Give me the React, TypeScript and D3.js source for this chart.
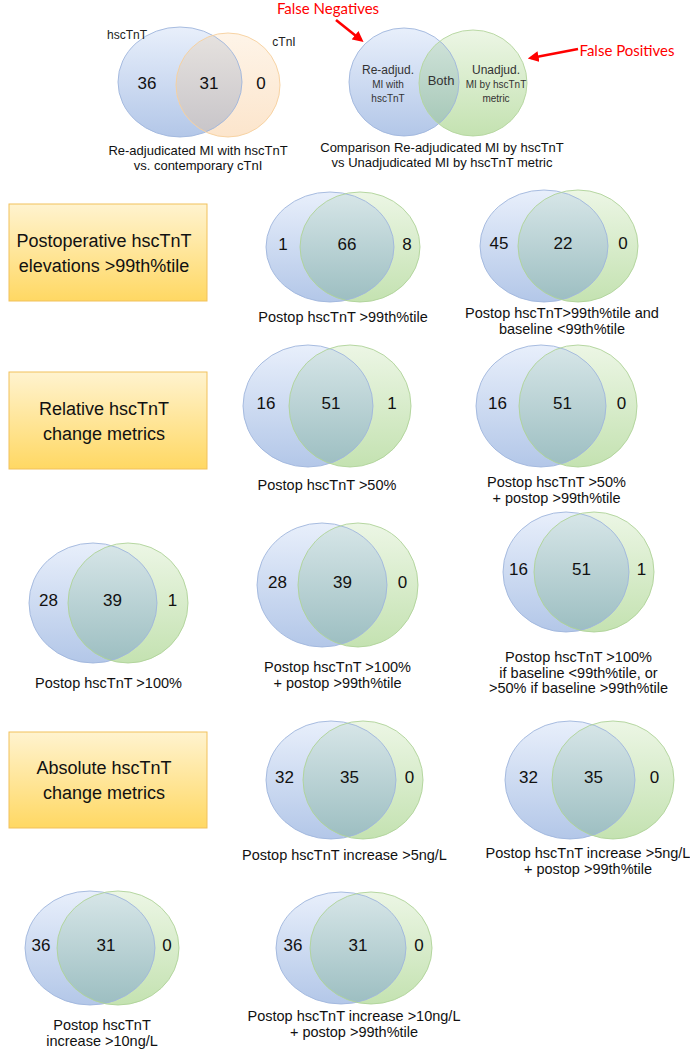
import React from 'react';
import * as d3 from 'd3';

// ---------- DATA ----------
const groupBoxes: string[][] = [
  ['Postoperative hscTnT', 'elevations >99th%tile'],
  ['Relative hscTnT', 'change metrics'],
  ['Absolute hscTnT', 'change metrics'],
];

const metricCaptions: string[][] = [
  ['Postop hscTnT >99th%tile'],
  ['Postop hscTnT>99th%tile and', 'baseline <99th%tile'],
  ['Postop hscTnT >50%'],
  ['Postop hscTnT >50%', '+ postop >99th%tile'],
  ['Postop hscTnT >100%'],
  ['Postop hscTnT >100%', '+ postop >99th%tile'],
  ['Postop hscTnT >100%', 'if baseline <99th%tile, or', '>50% if baseline >99th%tile'],
  ['Postop hscTnT increase >5ng/L'],
  ['Postop hscTnT increase >5ng/L', '+ postop >99th%tile'],
  ['Postop hscTnT', 'increase >10ng/L'],
  ['Postop hscTnT increase >10ng/L', '+ postop >99th%tile'],
];
const readjudicatedOnly = [1, 45, 16, 16, 28, 28, 16, 32, 32, 36, 36];
const bothCount = [66, 22, 51, 51, 39, 39, 51, 35, 35, 31, 31];
const metricOnly = [8, 0, 1, 0, 1, 0, 1, 0, 0, 0, 0];

const troponinSets = ['hscTnT', 'cTnI'];
const troponinCounts = [36, 31, 0];
const troponinCaption = ['Re-adjudicated MI with hscTnT', 'vs. contemporary cTnI'];

const keyRegions: string[][] = [['Re-adjud.', 'MI with', 'hscTnT'], ['Both'], ['Unadjud.', 'MI by hscTnT', 'metric']];
const keyCaption = ['Comparison Re-adjudicated MI by hscTnT', 'vs Unadjudicated MI by hscTnT metric'];
const errorLabels = ['False Negatives', 'False Positives'];

// ---------- LAYOUT ----------
type VL = { bx: number; brx: number; gx: number; grx: number; cy: number; ry: number; capY: number; capX?: number };
const vennLayout: VL[] = [
  { bx: 330, brx: 64, gx: 360, grx: 60, cy: 247, ry: 55, capY: 317 },
  { bx: 544, brx: 64, gx: 578, grx: 60, cy: 246, ry: 56, capY: 313, capX: 562 },
  { bx: 308, brx: 65, gx: 350, grx: 61, cy: 406, ry: 61, capY: 485 },
  { bx: 541, brx: 65, gx: 578, grx: 59, cy: 406, ry: 61, capY: 482 },
  { bx: 93, brx: 64, gx: 128, grx: 60, cy: 603, ry: 60, capY: 683 },
  { bx: 322, brx: 65, gx: 358, grx: 60, cy: 585, ry: 62, capY: 667 },
  { bx: 566, brx: 63, gx: 594, grx: 60, cy: 572, ry: 60, capY: 657 },
  { bx: 331, brx: 65, gx: 363, grx: 60, cy: 780, ry: 59, capY: 855 },
  { bx: 570, brx: 65, gx: 613, grx: 61, cy: 780, ry: 59, capY: 853, capX: 588 },
  { bx: 90, brx: 65, gx: 118, grx: 61, cy: 948, ry: 57, capY: 1025 },
  { bx: 341, brx: 65, gx: 371, grx: 61, cy: 948, ry: 56, capY: 1016 },
];
const boxLayout = [
  { y: 204, h: 97 },
  { y: 372, h: 97 },
  { y: 732, h: 96 },
];

const FONT = "'Liberation Sans', Arial, Helvetica, sans-serif";
const RED_FONT = "Lato, 'Open Sans', sans-serif";

function regionCenters(bx: number, brx: number, gx: number, grx: number) {
  const bl = bx - brx, br = bx + brx, gl = gx - grx, gr = gx + grx;
  return [d3.mean([bl, gl])!, d3.mean([gl, br])!, d3.mean([br, gr])!];
}

function Venn({ id, l, counts, caption, overlapFill, rightFill, rightStroke, capSize = 14.5, capGap = 15.5, by, gy, gry }: any) {
  const cyB = by ?? l.cy;
  const cyG = gy ?? l.cy;
  const ryG = gry ?? l.ry;
  const centers = regionCenters(l.bx, l.brx, l.gx, l.grx);
  const capX = l.capX ?? d3.mean([l.bx - l.brx, l.gx + l.grx])!;
  return (
    <g>
      <defs>
        <clipPath id={`clip-${id}`}>
          <ellipse cx={l.bx} cy={cyB} rx={l.brx} ry={l.ry} />
        </clipPath>
      </defs>
      <ellipse cx={l.bx} cy={cyB} rx={l.brx} ry={l.ry} fill="url(#gBlue)" />
      <ellipse cx={l.gx} cy={cyG} rx={l.grx} ry={ryG} fill={rightFill} />
      <ellipse cx={l.gx} cy={cyG} rx={l.grx} ry={ryG} fill={overlapFill} clipPath={`url(#clip-${id})`} />
      <ellipse cx={l.bx} cy={cyB} rx={l.brx} ry={l.ry} fill="none" stroke="#9fb5dc" strokeWidth={0.9} />
      <ellipse cx={l.gx} cy={cyG} rx={l.grx} ry={ryG} fill="none" stroke={rightStroke} strokeWidth={0.9} />
      {counts.map((c: number, i: number) => (
        <text key={i} x={centers[i]} y={l.ny ?? l.cy - 3} fontSize={17} fontFamily={FONT} fill="#111" textAnchor="middle" dominantBaseline="central">
          {c}
        </text>
      ))}
      {caption.map((s: string, i: number) => (
        <text key={'c' + i} x={capX} y={l.capY + i * capGap} fontSize={capSize} fontFamily={FONT} fill="#111" textAnchor="middle" dominantBaseline="central">
          {s}
        </text>
      ))}
    </g>
  );
}

export default function App() {
  const W = 690, H = 1050;
  const v0: any = { bx: 180, brx: 62, gx: 228, grx: 52, cy: 83, ry: 55, capY: 150, capX: 198, ny: 83 };
  const v1: any = { bx: 404, brx: 55, gx: 473, grx: 54, cy: 82, ry: 54, capY: 147, capX: 442 };
  const keyCenters = regionCenters(v1.bx, v1.brx, v1.gx, v1.grx);
  const keyStyles = [
    [12, 10, 10],
    [13],
    [12, 10, 10],
  ];
  const keyYs = [
    [70, 84, 98],
    [80],
    [70, 84, 98],
  ];
  return (
    <svg width={W} height={H} style={{ position: 'absolute', left: 0, top: 0, background: '#fff' }}>
      <defs>
        <linearGradient id="gBlue" x1="0" y1="0" x2="0" y2="1">
          <stop offset="0" stopColor="#e8effb" />
          <stop offset="1" stopColor="#b3c7e8" />
        </linearGradient>
        <linearGradient id="gGreen" x1="0" y1="0" x2="0" y2="1">
          <stop offset="0" stopColor="#ecf6e5" />
          <stop offset="1" stopColor="#c4e2b1" />
        </linearGradient>
        <linearGradient id="gOver" x1="0" y1="0" x2="0" y2="1">
          <stop offset="0" stopColor="#d7e6e8" />
          <stop offset="1" stopColor="#9cbec1" />
        </linearGradient>
        <linearGradient id="gOverKey" x1="0" y1="0" x2="0" y2="1">
          <stop offset="0" stopColor="#d3e5dc" />
          <stop offset="1" stopColor="#a2c5b4" />
        </linearGradient>
        <linearGradient id="gOrange" x1="0" y1="0" x2="0" y2="1">
          <stop offset="0" stopColor="#fef4e8" />
          <stop offset="1" stopColor="#fce5cc" />
        </linearGradient>
        <linearGradient id="gOverOrange" x1="0" y1="0" x2="0" y2="1">
          <stop offset="0" stopColor="#e6e2df" />
          <stop offset="1" stopColor="#c7c4c8" />
        </linearGradient>
        <linearGradient id="gGold" x1="0" y1="0" x2="0" y2="1">
          <stop offset="0" stopColor="#fff3cf" />
          <stop offset="1" stopColor="#ffd863" />
        </linearGradient>
        <marker id="arrow" viewBox="0 0 10 10" refX="7" refY="5" markerWidth="4.2" markerHeight="4.2" orient="auto">
          <path d="M0,0 L10,5 L0,10 z" fill="#ff0000" />
        </marker>
      </defs>

      {/* Top-left: hscTnT vs cTnI */}
      <Venn
        id="v0"
        l={v0}
        counts={troponinCounts}
        caption={troponinCaption}
        overlapFill="url(#gOverOrange)"
        rightFill="url(#gOrange)"
        rightStroke="#f6cf9c"
        capSize={13}
        capGap={15.5}
        by={82}
        gy={85}
        gry={52}
      />
      <text x={127} y={35} fontSize={12} fontFamily={FONT} fill="#222" textAnchor="middle" dominantBaseline="central">{troponinSets[0]}</text>
      <text x={284} y={42} fontSize={12} fontFamily={FONT} fill="#222" textAnchor="middle" dominantBaseline="central">{troponinSets[1]}</text>

      {/* Top-right: key diagram */}
      <Venn id="v1" l={v1} counts={[]} caption={keyCaption} overlapFill="url(#gOverKey)" rightFill="url(#gGreen)" rightStroke="#b3d59d" capSize={13} capGap={15.5} gy={83} gry={53} />
      {keyRegions.map((lines, r) =>
        lines.map((s, i) => (
          <text key={r + '-' + i} x={keyCenters[r] + (r === 0 ? 4 : r === 2 ? 3 : 2)} y={keyYs[r][i]} fontSize={keyStyles[r][i]} fontFamily={FONT} fill="#333" textAnchor="middle" dominantBaseline="central">
            {s}
          </text>
        ))
      )}
      <text x={328} y={8} fontSize={15} fontFamily={RED_FONT} fill="#ff0000" textAnchor="middle" dominantBaseline="central">{errorLabels[0]}</text>
      <line x1={336} y1={20} x2={361} y2={40} stroke="#ff0000" strokeWidth={2.6} markerEnd="url(#arrow)" />
      <text x={627} y={50} fontSize={15} fontFamily={RED_FONT} fill="#ff0000" textAnchor="middle" dominantBaseline="central">{errorLabels[1]}</text>
      <line x1={578} y1={49} x2={531} y2={58} stroke="#ff0000" strokeWidth={2.6} markerEnd="url(#arrow)" />

      {/* Group boxes */}
      {groupBoxes.map((lines, i) => {
        const b = boxLayout[i];
        const cy = b.y + b.h / 2;
        return (
          <g key={'box' + i}>
            <rect x={9} y={b.y} width={198} height={b.h} fill="url(#gGold)" stroke="#f1c15c" strokeWidth={1} />
            {lines.map((s, j) => (
              <text key={j} x={104} y={cy - 12 + j * 25} fontSize={18} fontFamily={FONT} fill="#111" textAnchor="middle" dominantBaseline="central">
                {s}
              </text>
            ))}
          </g>
        );
      })}

      {/* Metric venns */}
      {vennLayout.map((l, i) => (
        <Venn
          key={'m' + i}
          id={'m' + i}
          l={l}
          counts={[readjudicatedOnly[i], bothCount[i], metricOnly[i]]}
          caption={metricCaptions[i]}
          overlapFill="url(#gOver)"
          rightFill="url(#gGreen)"
          rightStroke="#afd398"
        />
      ))}
    </svg>
  );
}
